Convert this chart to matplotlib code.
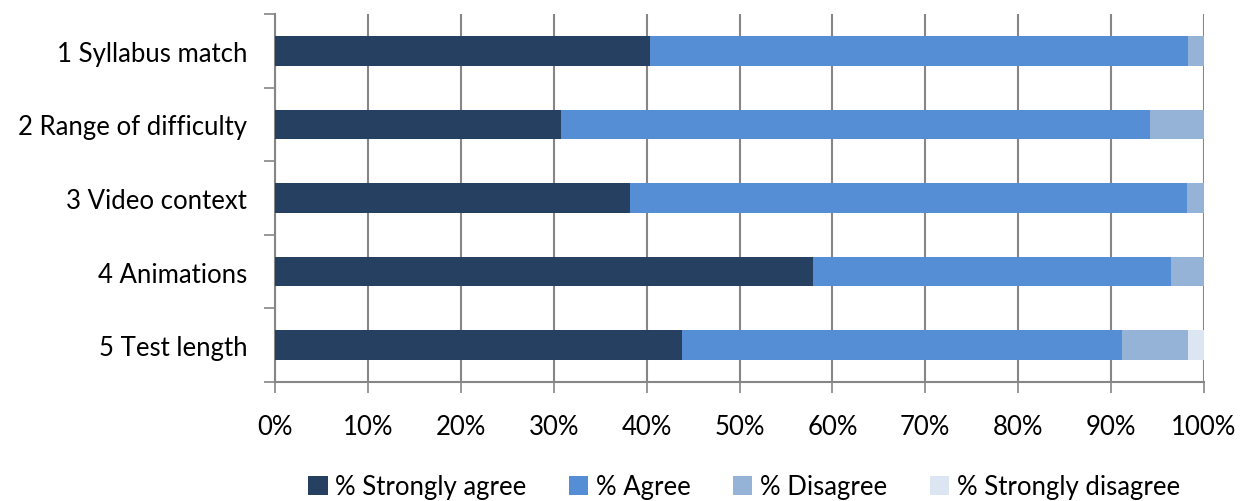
import matplotlib
matplotlib.use("Agg")
import matplotlib.pyplot as plt
from matplotlib.ticker import FixedLocator, NullFormatter

categories = ["1 Syllabus match", "2 Range of difficulty", "3 Video context",
              "4 Animations", "5 Test length"]
series_names = ["% Strongly agree", "% Agree", "% Disagree", "% Strongly disagree"]
strongly_agree = [40.4, 30.8, 38.2, 57.9, 43.8]
agree = [57.9, 63.4, 60.0, 38.5, 47.4]
disagree = [1.7, 5.8, 1.8, 3.6, 7.1]
strongly_disagree = [0.0, 0.0, 0.0, 0.0, 1.7]
x_ticks = [0, 10, 20, 30, 40, 50, 60, 70, 80, 90, 100]
x_tick_labels = [f"{t}%" for t in x_ticks]

colors = ["#254061", "#558ED5", "#95B3D7", "#DCE6F2"]

plt.rcParams['font.family'] = ['Lato', 'DejaVu Sans']
FS = 18.5

fig = plt.figure(figsize=(12.48, 5.02), dpi=100)
ax = fig.add_axes([275/1248, 1-383/502, (1204-275)/1248, (383-15)/502])

ypos = list(range(len(categories)))
left = [0.0]*len(categories)
for name, vals, c in zip(series_names, [strongly_agree, agree, disagree, strongly_disagree], colors):
    ax.barh(ypos, vals, left=left, height=0.4, color=c, label=name, zorder=3,
            edgecolor='none')
    left = [l + v for l, v in zip(left, vals)]

ax.set_xlim(0, 100)
ax.set_ylim(len(categories)-0.5, -0.5)
ax.set_yticks(ypos)
ax.set_yticklabels(categories, fontsize=FS, color='black')
ax.tick_params(axis='y', which='major', length=0, pad=20)
ax.yaxis.set_minor_locator(FixedLocator([i - 0.5 for i in range(len(categories)+1)]))
ax.yaxis.set_minor_formatter(NullFormatter())
ax.tick_params(axis='y', which='minor', length=8, color='#868686', width=1.2)

ax.set_xticks(x_ticks)
ax.set_xticklabels(x_tick_labels, fontsize=FS, color='black')
ax.tick_params(axis='x', length=8, color='#868686', width=1.2, pad=15)

ax.grid(axis='x', color='#868686', linewidth=1.5, zorder=0)
for s in ['top', 'right']:
    ax.spines[s].set_visible(False)
for s in ['left', 'bottom']:
    ax.spines[s].set_color('#868686')
    ax.spines[s].set_linewidth(1.5)

fig.legend(loc='center', bbox_to_anchor=(744/1248, 1-488/502), ncol=4, frameon=False,
           fontsize=FS, handlelength=0.75, handleheight=0.75, handletextpad=0.3,
           columnspacing=1.65)

fig.savefig("out.png", dpi=100)
